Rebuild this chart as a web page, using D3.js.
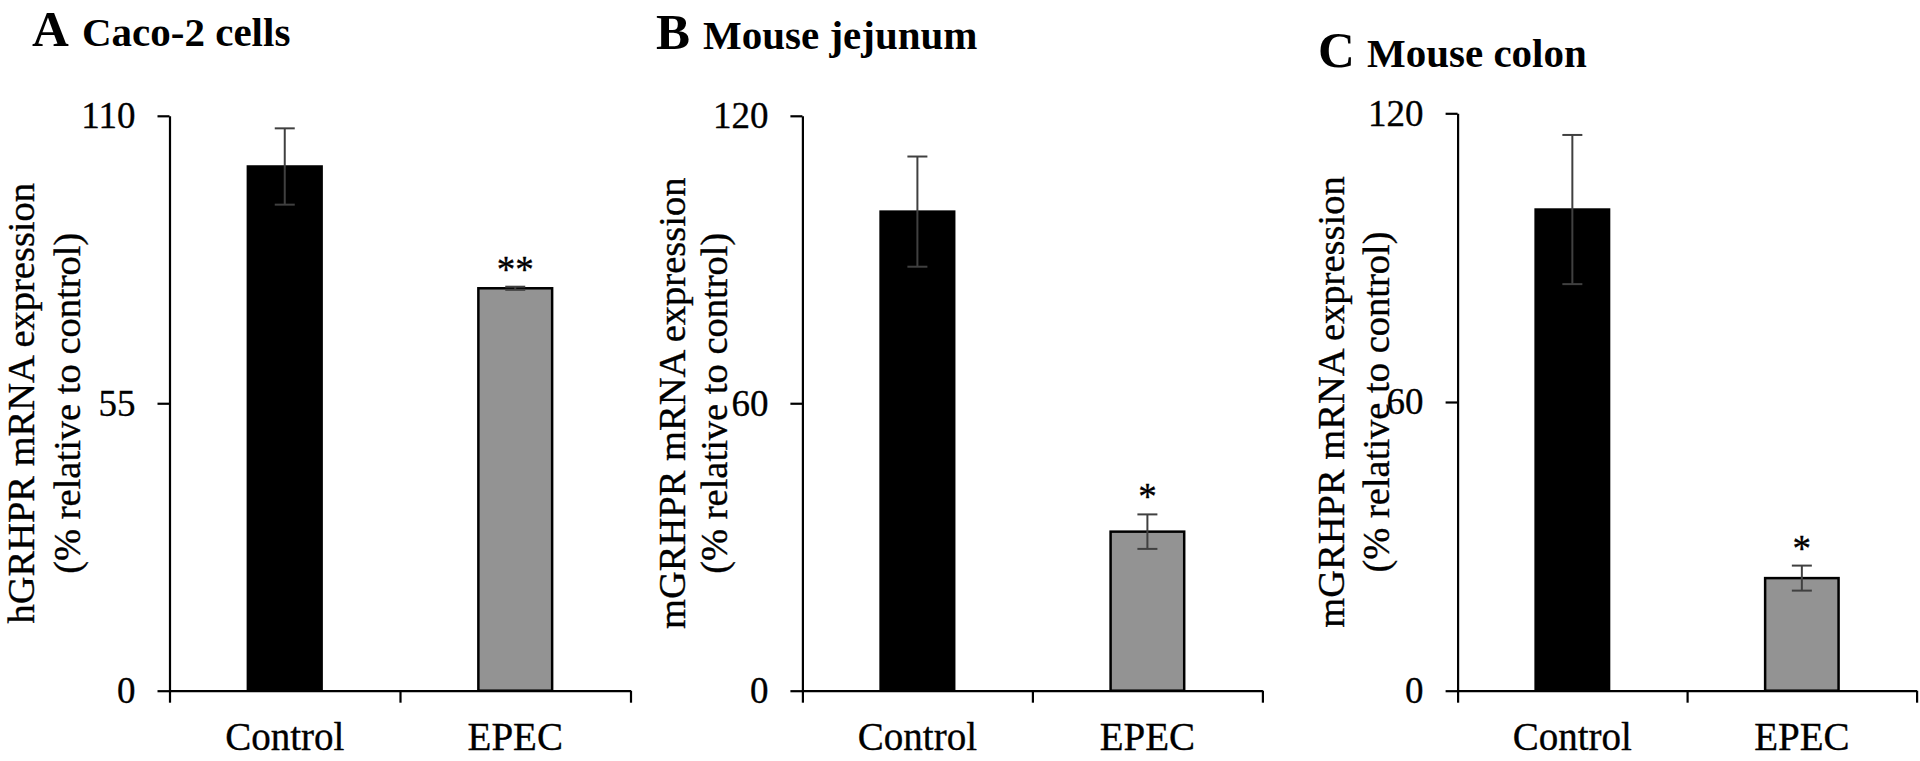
<!DOCTYPE html>
<html>
<head>
<meta charset="utf-8">
<script src="https://cdn.jsdelivr.net/npm/d3@7"></script>
<style>
  html, body { margin: 0; padding: 0; background: #fff; }
  svg { display: block; }
  text { font-family: "Liberation Serif", "Times New Roman", Times, serif; fill: #000; }
  text.reg { stroke: #000; stroke-width: 0.35px; }
</style>
</head>
<body>
<svg id="chart" width="1920" height="761"></svg>
<script>
// ---------------- data ----------------
const categories = ["Control", "EPEC"];
const panelLetters = ["A", "B", "C"];
const panelTitles = ["Caco-2 cells", "Mouse jejunum", "Mouse colon"];
const yLabelLine1 = ["hGRHPR mRNA expression", "mGRHPR mRNA expression", "mGRHPR mRNA expression"];
const yLabelLine2 = ["(% relative to control)", "(% relative to control)", "(% relative to control)"];
const yMaxValues = [110, 120, 120];
const caco2Ticks = [0, 55, 110];
const jejunumTicks = [0, 60, 120];
const colonTicks = [0, 60, 120];
const caco2Means = [100.3, 77.0];
const caco2Errors = [7.3, 0.3];
const jejunumMeans = [100.0, 33.2];
const jejunumErrors = [11.5, 3.6];
const colonMeans = [100.0, 23.4];
const colonErrors = [15.5, 2.6];
const caco2Sig = ["", "**"];
const jejunumSig = ["", "*"];
const colonSig = ["", "*"];

// ---------------- layout ----------------
const panels = [
  { left: 169.5, width: 461, top: 115.8, bottom: 690.7, ticks: caco2Ticks, means: caco2Means, errs: caco2Errors, sig: caco2Sig,
    letterX: 32, titleX: 82, titleY: 46, lab1X: 34, lab2X: 80 },
  { left: 802.4, width: 460, top: 115.8, bottom: 690.7, ticks: jejunumTicks, means: jejunumMeans, errs: jejunumErrors, sig: jejunumSig,
    letterX: 656, titleX: 703, titleY: 49, lab1X: 685, lab2X: 727 },
  { left: 1457.6, width: 459, top: 113.3, bottom: 690.7, ticks: colonTicks, means: colonMeans, errs: colonErrors, sig: colonSig,
    letterX: 1318, titleX: 1367, titleY: 67, lab1X: 1344, lab2X: 1389 }
];
const barColors = ["#000000", "#939393"];

const svg = d3.select("#chart");

panels.forEach((p, i) => {
  const g = svg.append("g").attr("transform", `translate(${p.left},0)`);
  const y = d3.scaleLinear().domain([0, yMaxValues[i]]).range([p.bottom, p.top]);
  const x = d3.scaleBand().domain(categories).range([0, p.width]).paddingInner(0.68).paddingOuter(0.34);
  const xEdge = d3.scaleLinear().domain([0, categories.length]).range([0, p.width]);

  // bars
  g.selectAll("rect.bar").data(categories).enter().append("rect")
    .attr("x", d => x(d))
    .attr("width", x.bandwidth())
    .attr("y", (d, j) => y(p.means[j]))
    .attr("height", (d, j) => y(0) - y(p.means[j]))
    .attr("fill", (d, j) => barColors[j])
    .attr("stroke", "#000")
    .attr("stroke-width", 2.5);

  // error bars
  const cap = 10;
  categories.forEach((c, j) => {
    const cx = x(c) + x.bandwidth() / 2;
    const yt = y(p.means[j] + p.errs[j]);
    const yb = y(p.means[j] - p.errs[j]);
    const eg = g.append("g").attr("stroke", "#404040").attr("stroke-width", 2);
    eg.append("line").attr("x1", cx).attr("x2", cx).attr("y1", yt).attr("y2", yb);
    eg.append("line").attr("x1", cx - cap).attr("x2", cx + cap).attr("y1", yt).attr("y2", yt);
    eg.append("line").attr("x1", cx - cap).attr("x2", cx + cap).attr("y1", yb).attr("y2", yb);
    if (p.sig[j]) {
      g.append("text").attr("class", "reg").attr("x", cx).attr("y", yt - 5)
        .attr("text-anchor", "middle").attr("font-size", 37).text(p.sig[j]);
    }
  });

  // y axis
  const yAxis = g.append("g")
    .call(d3.axisLeft(y).tickValues(p.ticks).tickSize(12).tickPadding(22).tickSizeOuter(0).tickFormat(d3.format("d")));
  yAxis.selectAll("text").attr("class", "reg").attr("font-size", 37).attr("fill", "#000");
  yAxis.selectAll("line, path").attr("stroke", "#000").attr("stroke-width", 2.2);

  // x axis line with edge ticks
  const xAxisG = g.append("g").attr("transform", `translate(0,${p.bottom})`)
    .call(d3.axisBottom(xEdge).tickValues(d3.range(categories.length + 1)).tickSize(12).tickSizeOuter(0).tickFormat(""));
  xAxisG.selectAll("line, path").attr("stroke", "#000").attr("stroke-width", 2.2);

  // category labels
  const catG = g.append("g").attr("transform", `translate(0,${p.bottom})`)
    .call(d3.axisBottom(x).tickSize(0).tickPadding(32));
  catG.select("path").remove();
  catG.selectAll("text").attr("class", "reg").attr("font-size", 39).attr("fill", "#000");

  // y labels
  const yc = (p.top + p.bottom) / 2;
  svg.append("text").attr("class", "reg").attr("transform", `translate(${p.lab1X},${yc}) rotate(-90)`)
    .attr("text-anchor", "middle").attr("font-size", 38.5).text(yLabelLine1[i]);
  svg.append("text").attr("class", "reg").attr("transform", `translate(${p.lab2X},${yc}) rotate(-90)`)
    .attr("text-anchor", "middle").attr("font-size", 38.5).text(yLabelLine2[i]);

  // titles
  svg.append("text").attr("x", p.letterX).attr("y", p.titleY)
    .attr("font-size", 51).attr("font-weight", "bold").text(panelLetters[i]);
  svg.append("text").attr("x", p.titleX).attr("y", p.titleY)
    .attr("font-size", 41).attr("font-weight", "bold").text(panelTitles[i]);
});
</script>
</body>
</html>
